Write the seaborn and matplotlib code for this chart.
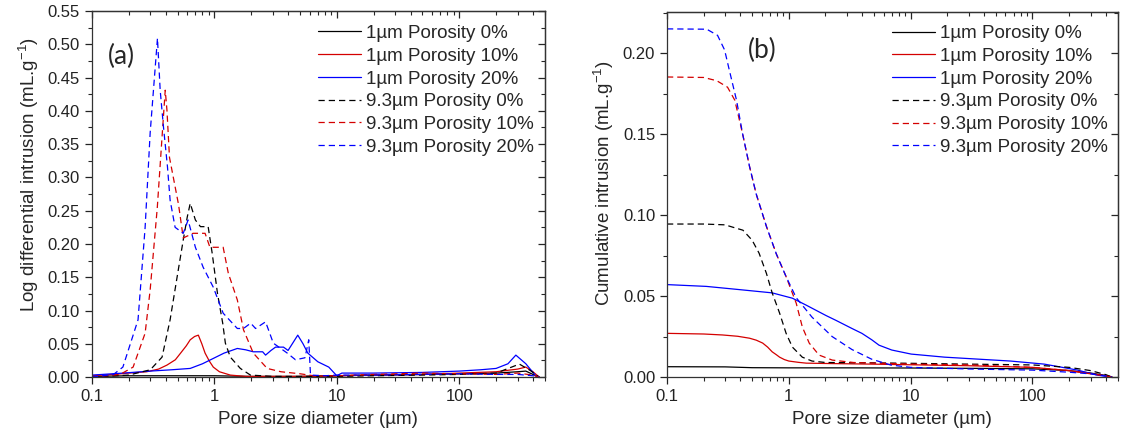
import numpy as np
import pandas as pd
import matplotlib
matplotlib.use("Agg")
import matplotlib.pyplot as plt
import seaborn as sns
from matplotlib.ticker import FixedLocator, NullFormatter, MultipleLocator, LogLocator

# ---- (a) log differential intrusion ----
a_x_1um_0 = [0.1, 0.2, 0.5, 1, 2, 5, 10, 20, 50, 100, 200, 300, 350, 400, 450]
a_y_1um_0 = [0.001, 0.002, 0.002, 0.002, 0.001, 0.001, 0.002, 0.003, 0.004, 0.005, 0.006, 0.008, 0.009, 0.004, 0.0]

a_x_1um_10 = [0.1, 0.15, 0.2, 0.28, 0.35, 0.41, 0.48, 0.53, 0.59, 0.635, 0.69, 0.74, 0.79, 0.84, 0.91, 0.98,
              1.1, 1.35, 1.8, 3, 5, 10, 20, 50, 100, 200, 300, 350, 400, 450]
a_y_1um_10 = [0.002, 0.004, 0.006, 0.008, 0.012, 0.018, 0.026, 0.036, 0.047, 0.056, 0.061, 0.063, 0.05, 0.036,
              0.024, 0.015, 0.008, 0.003, 0.001, 0.001, 0.001, 0.002, 0.003, 0.004, 0.006, 0.008, 0.012, 0.015,
              0.008, 0.0]

a_x_1um_20 = [0.1, 0.18, 0.3, 0.45, 0.635, 0.8, 0.98, 1.2, 1.54, 1.8, 2.08, 2.48, 2.62, 2.9, 3.16, 3.67, 4.0,
              4.4, 4.8, 5.3, 5.8, 7.0, 8.6, 10, 11, 20, 50, 100, 150, 200, 250, 290, 350, 430]
a_y_1um_20 = [0.003, 0.006, 0.009, 0.011, 0.013, 0.02, 0.028, 0.036, 0.043, 0.041, 0.038, 0.038, 0.033, 0.04,
              0.045, 0.045, 0.04, 0.052, 0.063, 0.05, 0.036, 0.023, 0.015, 0.002, 0.006, 0.006, 0.007, 0.009,
              0.011, 0.013, 0.02, 0.033, 0.02, 0.0]

a_x_93um_0 = [0.1, 0.2, 0.3, 0.374, 0.435, 0.496, 0.557, 0.6, 0.635, 0.70, 0.77, 0.89, 0.96, 1.06, 1.17, 1.23,
              1.35, 1.63, 1.97, 3, 5, 10, 20, 50, 100, 200, 310, 380, 450]
a_y_93um_0 = [0.0, 0.003, 0.011, 0.03, 0.086, 0.15, 0.206, 0.24, 0.261, 0.236, 0.226, 0.226, 0.186, 0.126, 0.081,
              0.051, 0.030, 0.013, 0.003, 0.001, 0.001, 0.001, 0.002, 0.003, 0.004, 0.006, 0.0195, 0.01, 0.0]

a_x_93um_10 = [0.1, 0.17, 0.217, 0.272, 0.299, 0.342, 0.374, 0.397, 0.41, 0.43, 0.478, 0.51, 0.557, 0.67, 0.84,
               0.92, 1.18, 1.30, 1.54, 1.73, 2.08, 2.7, 3.5, 5, 7, 10, 20, 50, 100, 200, 300, 400, 450]
a_y_93um_10 = [0.0, 0.004, 0.015, 0.066, 0.131, 0.255, 0.361, 0.431, 0.401, 0.33, 0.286, 0.259, 0.209, 0.216,
               0.216, 0.195, 0.195, 0.156, 0.116, 0.071, 0.036, 0.013, 0.008, 0.005, 0.001, 0.002, 0.004, 0.006,
               0.005, 0.004, 0.006, 0.003, 0.0]

a_x_93um_20 = [0.1, 0.15, 0.179, 0.238, 0.272, 0.299, 0.343, 0.361, 0.384, 0.414, 0.435, 0.478, 0.557, 0.61,
               0.70, 0.81, 0.98, 1.18, 1.54, 1.73, 1.98, 2.17, 2.62, 3.03, 3.94, 4.6, 5.5, 5.9, 6.1, 8, 10, 20,
               50, 100, 200, 300, 400, 450]
a_y_93um_20 = [0.0, 0.004, 0.015, 0.086, 0.225, 0.367, 0.509, 0.431, 0.376, 0.316, 0.266, 0.225, 0.216, 0.236,
               0.195, 0.165, 0.135, 0.096, 0.073, 0.073, 0.081, 0.073, 0.083, 0.051, 0.036, 0.026, 0.029, 0.056,
               0.003, 0.002, 0.003, 0.003, 0.004, 0.005, 0.004, 0.004, 0.002, 0.0]

# ---- (b) cumulative intrusion ----
b_x_1um_0 = [0.1, 0.3, 0.5, 1, 3, 10, 30, 100, 200, 300, 400, 450]
b_y_1um_0 = [0.0064, 0.0063, 0.0058, 0.0057, 0.0057, 0.0056, 0.0054, 0.0051, 0.004, 0.0025, 0.001, 0.0]

b_x_1um_10 = [0.1, 0.2, 0.286, 0.38, 0.476, 0.54, 0.61, 0.67, 0.73, 0.79, 0.84, 0.92, 1.0, 1.2, 1.39, 2, 4.8,
              10, 30, 100, 200, 300, 400, 450]
b_y_1um_10 = [0.027, 0.0266, 0.026, 0.0252, 0.024, 0.0228, 0.021, 0.0185, 0.0156, 0.0138, 0.0123, 0.0108,
              0.0099, 0.0091, 0.0086, 0.0084, 0.008, 0.0076, 0.007, 0.006, 0.004, 0.0022, 0.0008, 0.0]

b_x_1um_20 = [0.1, 0.21, 0.394, 0.73, 1.07, 1.39, 2.02, 2.44, 3.3, 3.98, 4.8, 5.5, 7.0, 10.1, 19, 66, 125, 235,
              340, 440]
b_y_1um_20 = [0.0571, 0.056, 0.054, 0.052, 0.0487, 0.0444, 0.038, 0.035, 0.030, 0.027, 0.023, 0.0197, 0.0167,
              0.0142, 0.0123, 0.0099, 0.008, 0.0043, 0.0012, 0.0]

b_x_93um_0 = [0.1, 0.2, 0.3, 0.345, 0.42, 0.5, 0.57, 0.655, 0.73, 0.84, 0.95, 1.07, 1.29, 1.55, 2, 5, 10, 30,
              100, 200, 300, 400, 450]
b_y_93um_0 = [0.0945, 0.0945, 0.094, 0.0926, 0.0907, 0.0845, 0.0765, 0.064, 0.052, 0.0395, 0.027, 0.0185,
              0.0123, 0.0099, 0.009, 0.0088, 0.0085, 0.008, 0.0075, 0.006, 0.004, 0.0015, 0.0]

b_x_93um_10 = [0.1, 0.2, 0.256, 0.314, 0.36, 0.418, 0.476, 0.54, 0.655, 0.79, 0.95, 1.15, 1.29, 1.47, 1.77,
               2.27, 3.4, 10, 30, 100, 200, 300, 400, 450]
b_y_93um_10 = [0.1853, 0.185, 0.183, 0.179, 0.171, 0.150, 0.130, 0.113, 0.093, 0.076, 0.062, 0.0456, 0.031,
               0.021, 0.0136, 0.0105, 0.009, 0.008, 0.0075, 0.006, 0.004, 0.002, 0.0007, 0.0]

b_x_93um_20 = [0.1, 0.212, 0.26, 0.297, 0.326, 0.372, 0.418, 0.476, 0.54, 0.655, 0.79, 0.95, 1.15, 1.55, 2.27,
               3.3, 4.8, 6.9, 10, 30, 100, 200, 300, 400, 450]
b_y_93um_20 = [0.215, 0.2148, 0.211, 0.202, 0.189, 0.171, 0.150, 0.130, 0.113, 0.093, 0.076, 0.062, 0.049,
               0.037, 0.025, 0.017, 0.011, 0.0074, 0.006, 0.005, 0.0043, 0.003, 0.002, 0.0007, 0.0]

labels = ['1µm Porosity 0%', '1µm Porosity 10%', '1µm Porosity 20%',
          '9.3µm Porosity 0%', '9.3µm Porosity 10%', '9.3µm Porosity 20%']
colors = ['black', '#d40000', '#0000ff', 'black', '#d40000', '#0000ff']
dashed = [False, False, False, True, True, True]

series_a = [(a_x_1um_0, a_y_1um_0), (a_x_1um_10, a_y_1um_10), (a_x_1um_20, a_y_1um_20),
            (a_x_93um_0, a_y_93um_0), (a_x_93um_10, a_y_93um_10), (a_x_93um_20, a_y_93um_20)]
series_b = [(b_x_1um_0, b_y_1um_0), (b_x_1um_10, b_y_1um_10), (b_x_1um_20, b_y_1um_20),
            (b_x_93um_0, b_y_93um_0), (b_x_93um_10, b_y_93um_10), (b_x_93um_20, b_y_93um_20)]

sns.set_style("ticks")
plt.rcParams['font.family'] = ['Liberation Sans', 'DejaVu Sans']
plt.rcParams['mathtext.default'] = 'regular'
plt.rcParams['axes.linewidth'] = 0.9

fig = plt.figure(figsize=(11.21, 4.40), dpi=100)
ax_a = fig.add_axes([0.082, 0.143, 0.404, 0.832])
ax_b = fig.add_axes([0.595, 0.143, 0.402, 0.830])


def draw(ax, series, ylim, ylabel, ylabel_y, tag, tag_xy, leg_y):
    for (xs, ys), lab, col, dsh in zip(series, labels, colors, dashed):
        df = pd.DataFrame({'d': xs, 'v': ys})
        ls = (0, (5, 3.2)) if dsh else '-'
        sns.lineplot(data=df, x='d', y='v', ax=ax, color=col, linestyle=ls, linewidth=0.9,
                     label=lab, estimator=None, sort=False)
    ax.set_xscale('log')
    ax.set_xlim(0.1, 500)
    ax.set_ylim(*ylim)
    ax.xaxis.set_major_locator(FixedLocator([0.1, 1, 10, 100]))
    ax.xaxis.set_major_formatter(plt.FuncFormatter(lambda v, p: f'{v:g}'))
    ax.xaxis.set_minor_locator(LogLocator(base=10, subs=np.arange(2, 10)))
    ax.xaxis.set_minor_formatter(NullFormatter())
    ax.yaxis.set_major_locator(MultipleLocator(0.05))
    ax.yaxis.set_minor_locator(MultipleLocator(0.025))
    ax.yaxis.set_major_formatter(plt.FuncFormatter(lambda v, p: f'{v:.2f}'))
    ax.tick_params(which='major', direction='out', length=5, width=0.9, labelsize=12, colors='#222222')
    ax.tick_params(which='minor', direction='out', length=3, width=0.8)
    for s in ax.spines.values():
        s.set_visible(True)
        s.set_color('#333333')
    # mirrored ticks on top and right, pointing inward
    top = ax.secondary_xaxis('top')
    top.xaxis.set_major_locator(FixedLocator([0.1, 1, 10, 100]))
    top.xaxis.set_minor_locator(LogLocator(base=10, subs=np.arange(2, 10)))
    top.tick_params(which='major', direction='in', length=5, width=0.9, labeltop=False)
    top.tick_params(which='minor', direction='in', length=3, width=0.8)
    top.xaxis.set_minor_formatter(NullFormatter())
    right = ax.secondary_yaxis('right')
    right.yaxis.set_major_locator(MultipleLocator(0.05))
    right.yaxis.set_minor_locator(MultipleLocator(0.025))
    right.tick_params(which='major', direction='in', length=5, width=0.9, labelright=False)
    right.tick_params(which='minor', direction='in', length=3, width=0.8)
    ax.set_xlabel('Pore size diameter (µm)', fontsize=13.5, labelpad=5)
    ax.set_ylabel(ylabel, fontsize=13.5, labelpad=5)
    ax.yaxis.label.set_y(ylabel_y)
    ax.text(tag_xy[0], tag_xy[1], tag, transform=ax.transAxes, fontsize=19, family='Lato', va='center')
    ax.legend(loc='upper left', bbox_to_anchor=(0.5, leg_y), frameon=False, fontsize=13.5,
              handlelength=2.25, handletextpad=0.27, labelspacing=0.3, borderpad=0, borderaxespad=0)


draw(ax_a, series_a, (0, 0.55), 'Log differential intrusion (mL.g$^{-1}$)', 0.552, '(a)', (0.035, 0.875), 0.962)
draw(ax_b, series_b, (0, 0.2255), 'Cumulative intrusion (mL.g$^{-1}$)', 0.531, '(b)', (0.18, 0.895), 0.964)

fig.savefig('out.png', dpi=100)
